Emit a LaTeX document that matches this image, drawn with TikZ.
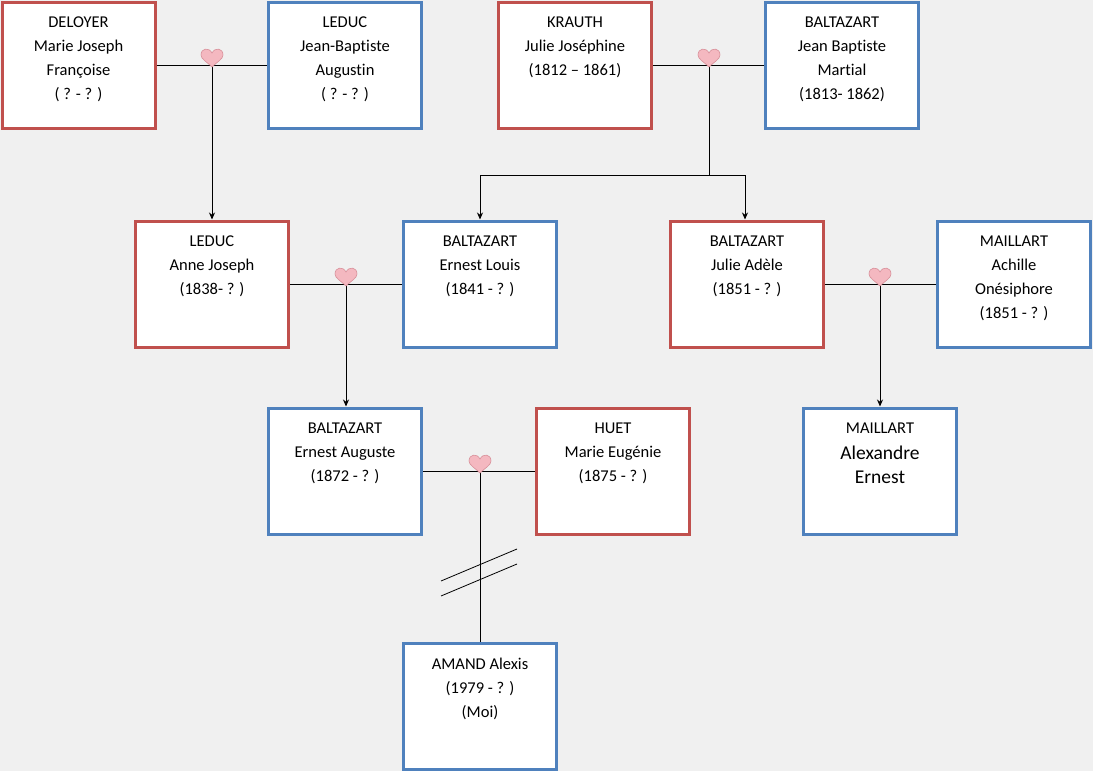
\documentclass[tikz,border=0pt]{standalone}
\usepackage{fontspec}
\setmainfont[Ligatures=NoCommon]{Carlito}
\usetikzlibrary{arrows.meta}
\definecolor{bg}{HTML}{F0F0F0}
\definecolor{fem}{HTML}{C0504D}
\definecolor{mal}{HTML}{4F81BD}
\definecolor{hfill}{HTML}{F4B8C0}
\definecolor{hdraw}{HTML}{D8909A}
\tikzset{
  box/.style={draw, line width=3pt, fill=white, minimum width=153pt, minimum height=126pt, inner sep=0pt},
  F/.style={box, draw=fem},
  M/.style={box, draw=mal},
  lnk/.style={line width=0.8pt, black},
  arr/.style={lnk, -{Stealth[length=7pt,width=6pt]}},
}
\newcommand{\bx}[1]{\parbox[t][120pt][t]{150pt}{\centering\fontsize{16.5}{24}\selectfont\vspace*{12pt}#1}}
\newcommand{\heart}[1]{%
  \fill[hfill, draw=hdraw, line width=0.6pt, shift={(#1)}] (0,2) .. controls (-5,-3) and (-11,-6) .. (-11,-10) .. controls (-11,-17) and (-3,-18) .. (0,-12) .. controls (3,-18) and (11,-17) .. (11,-10) .. controls (11,-6) and (5,-3) .. (0,2) -- cycle;}
\begin{document}
\begin{tikzpicture}[x=1pt,y=-1pt]
\fill[bg] (0,0) rectangle (1093,771);
\useasboundingbox (0,0) rectangle (1093,771);
\node[F] (b1) at (78.5,65) {\bx{DELOYER\\Marie Joseph\\Françoise\\( ? - ? )}};
\node[M] (b2) at (345,65) {\bx{LEDUC\\Jean-Baptiste\\Augustin\\( ? - ? )}};
\node[F] (b3) at (575,65) {\bx{KRAUTH\\Julie Joséphine\\(1812 – 1861)}};
\node[M] (b4) at (842,65) {\bx{BALTAZART\\Jean Baptiste\\Martial\\(1813- 1862)}};
\node[F] (b5) at (212,284) {\bx{LEDUC\\Anne Joseph\\(1838- ? )}};
\node[M] (b6) at (480,284) {\bx{BALTAZART\\Ernest Louis\\(1841 - ? )}};
\node[F] (b7) at (747,284) {\bx{BALTAZART\\Julie Adèle\\(1851 - ? )}};
\node[M] (b8) at (1014,284) {\bx{MAILLART\\Achille\\Onésiphore\\(1851 - ? )}};
\node[M] (b9) at (345,471) {\bx{BALTAZART\\Ernest Auguste\\(1872 - ? )}};
\node[F] (b10) at (613,471) {\bx{HUET\\Marie Eugénie\\(1875 - ? )}};
\node[M] (b11) at (880,471) {\bx{MAILLART\\{\fontsize{19.5}{26}\selectfont Alexandre\\Ernest}}};
\node[M] (b12) at (480,706) {\bx{AMAND Alexis\\(1979 - ? )\\(Moi)}};
\coordinate (m1) at (212,65);
\coordinate (m2) at (709,65);
\coordinate (j2) at (709,175);
\coordinate (m3) at (346,284);
\coordinate (m4) at (880,284);
\coordinate (m5) at (480,471);
\coordinate (s1a) at (441,581); \coordinate (s1b) at (517,549);
\coordinate (s2a) at (441,596); \coordinate (s2b) at (517,564);
\draw[lnk] (b1.east) -- (b2.west);
\draw[lnk] (b3.east) -- (b4.west);
\draw[lnk] (b5.east) -- (b6.west);
\draw[lnk] (b7.east) -- (b8.west);
\draw[lnk] (b9.east) -- (b10.west);
\draw[arr] (m1) -- (b5.north);
\draw[lnk] (m2) -- (j2);
\draw[arr] (j2) -| (b6.north);
\draw[arr] (j2) -| ([xshift=-2pt]b7.north);
\draw[arr] (m3) -- (b9.north -| m3);
\draw[arr] (m4) -- (b11.north);
\draw[lnk] (m5) -- (b12.north);
\draw[lnk] (s1a) -- (s1b);
\draw[lnk] (s2a) -- (s2b);
\heart{m1}\heart{m2}\heart{m3}\heart{m4}\heart{m5}
\end{tikzpicture}
\end{document}
